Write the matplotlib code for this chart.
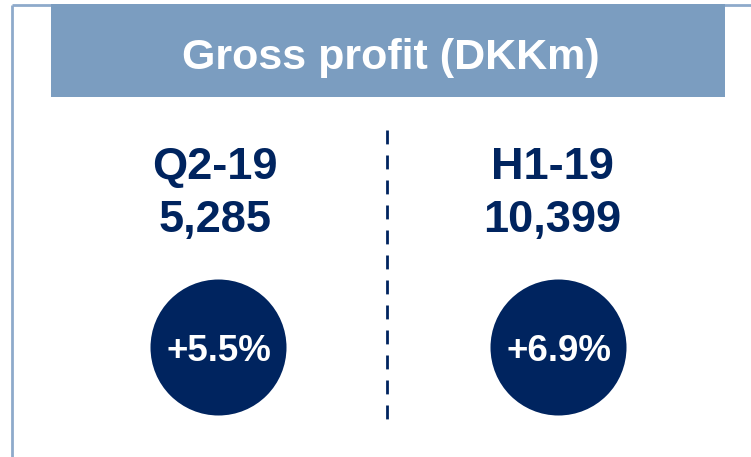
import matplotlib
matplotlib.use("Agg")
import matplotlib.pyplot as plt
from matplotlib.patches import Rectangle, Circle

# ---- data ----
title = "Gross profit (DKKm)"
periods = ["Q2-19", "H1-19"]
values = ["5,285", "10,399"]
growth = ["+5.5%", "+6.9%"]

HEADER = "#7b9dc0"
NAVY = "#00245f"
BORDER = "#8eaacb"
FONT = "Liberation Sans"

W, H = 751, 457
fig = plt.figure(figsize=(W / 100, H / 100), dpi=100)
ax = fig.add_axes([0, 0, 1, 1])
ax.set_xlim(0, W)
ax.set_ylim(H, 0)
ax.axis("off")

# outer border (left and top lines)
ax.plot([12, 12], [5, H], color=BORDER, lw=2, solid_capstyle="butt")
ax.plot([12, W], [5, 5], color=BORDER, lw=2, solid_capstyle="butt")

# header band
ax.add_patch(Rectangle((51, 4), 674, 93, facecolor=HEADER, edgecolor="none", zorder=2))
ax.text(391, 69, title, color="white", fontsize=31, fontweight="bold",
        family=FONT, ha="center", va="baseline", zorder=3)

# dashed divider
ax.plot([387, 387], [130, 428], color=NAVY, lw=2, linestyle=(0, (5, 4)),
        solid_capstyle="butt", dash_capstyle="butt")

text_x = [215, 552]
circle_x = [218.5, 558.5]
for tx, cx, p, v, g in zip(text_x, circle_x, periods, values, growth):
    ax.text(tx, 179, p, color=NAVY, fontsize=32.5, fontweight="bold",
            family=FONT, ha="center", va="baseline")
    ax.text(tx, 232, v, color=NAVY, fontsize=32.5, fontweight="bold",
            family=FONT, ha="center", va="baseline")
    ax.add_patch(Circle((cx, 347.5), 68, facecolor=NAVY, edgecolor="none"))
    ax.text(cx, 361, g, color="white", fontsize=26.5, fontweight="bold",
            family=FONT, ha="center", va="baseline")

fig.savefig("out.png", dpi=100, facecolor="white")
